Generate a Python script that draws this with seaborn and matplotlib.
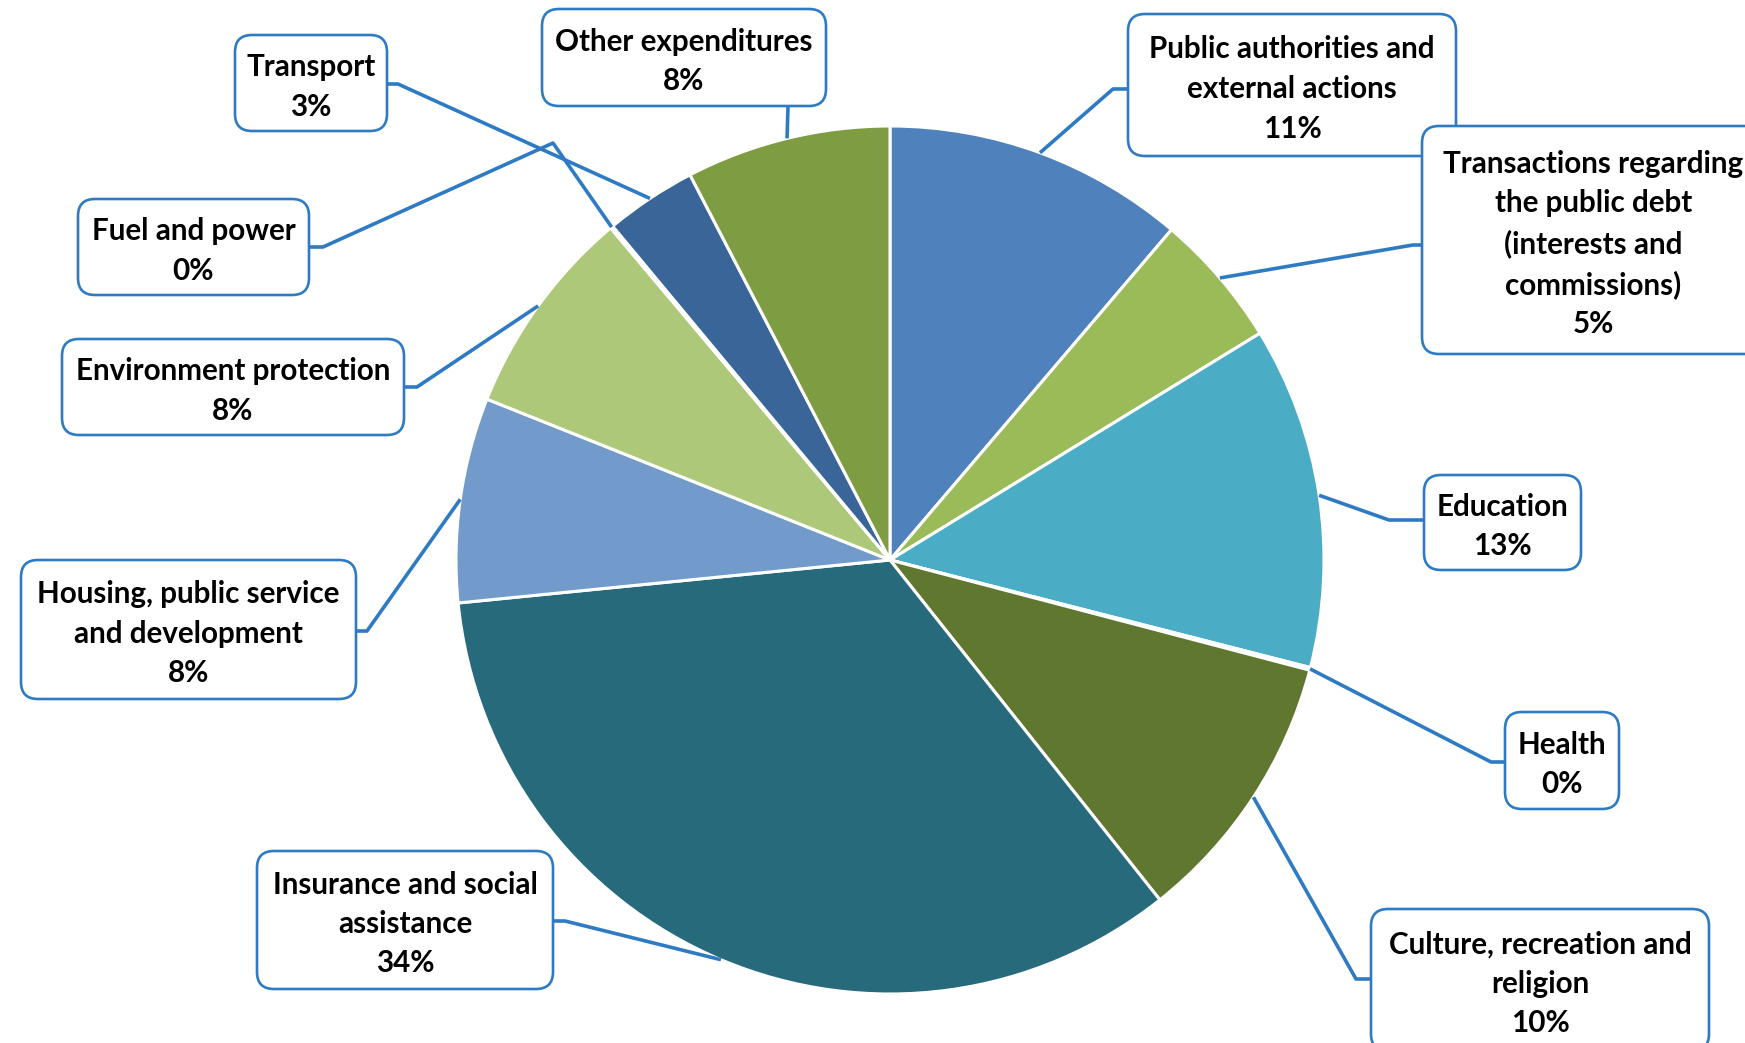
import numpy as np
import matplotlib
matplotlib.use("Agg")
import matplotlib.pyplot as plt
from matplotlib.patches import FancyBboxPatch
import seaborn as sns

sns.set_theme(style="white")
plt.rcParams["font.family"] = ["Lato", "DejaVu Sans"]

# Budget expenditure shares by function (clockwise from 12 o'clock)
categories = [
    "Public authorities and\nexternal actions",
    "Transactions regarding\nthe public debt\n(interests and\ncommissions)",
    "Education",
    "Health",
    "Culture, recreation and\nreligion",
    "Insurance and social\nassistance",
    "Housing, public service\nand development",
    "Environment protection",
    "Fuel and power",
    "Transport",
    "Other expenditures",
]
shares = [11.2, 5.0, 12.7, 0.1, 10.2, 34.0, 7.6, 7.8, 0.1, 3.4, 7.6]
colors = ["#4F81BD", "#9BBB59", "#4BACC6", "#2C4D75", "#60772F", "#276A7C",
          "#729ACA", "#ADC879", "#3B5E8C", "#3A6599", "#7E9C41"]

W, H = 1745, 1043
CX, CY, R = 890, H - 560, 434
LINE = "#2E7BC4"

# Label box extents (x0, x1, y0, y1 in pixels from top-left) and leader path
# points (pixels from top-left) running from the box towards the pie edge.
boxes = [
    (1128, 1456, 14, 156),
    (1422, 1765, 126, 354),
    (1424, 1581, 475, 570),
    (1505, 1619, 712, 809),
    (1371, 1709, 909, 1051),
    (257, 553, 851, 989),
    (21, 356, 560, 699),
    (62, 404, 339, 435),
    (78, 309, 199, 295),
    (235, 387, 35, 131),
    (542, 826, 9, 106),
]
paths = [
    [(1128, 89), (1113, 89)],
    [(1422, 245), (1413, 245)],
    [(1424, 520), (1389, 520)],
    [(1505, 762), (1491, 762)],
    [(1371, 979), (1356, 979)],
    [(553, 921), (565, 921)],
    [(356, 631), (367, 631)],
    [(404, 387), (417, 387)],
    [(309, 247), (323, 247), (553, 143)],
    [(387, 84), (398, 84)],
    [(788, 106)],
]

fig = plt.figure(figsize=(W / 100, H / 100), dpi=100)
ax = fig.add_axes([0, 0, 1, 1])

wedges, _ = ax.pie(
    shares, colors=colors, startangle=90, counterclock=False,
    center=(CX, CY), radius=R, frame=True,
    wedgeprops=dict(edgecolor="white", linewidth=2.2),
)
ax.set_xlim(0, W)
ax.set_ylim(0, H)
ax.set_aspect("equal")
ax.axis("off")

total = sum(shares)
for wdg, name, val, (x0, x1, y0, y1), path in zip(wedges, categories, shares, boxes, paths):
    # leader line from the box to the wedge's outer edge at its mid-angle
    mid = np.deg2rad((wdg.theta1 + wdg.theta2) / 2)
    ex, ey = CX + R * np.cos(mid), CY + R * np.sin(mid)
    xs = [p[0] for p in path] + [ex]
    ys = [H - p[1] for p in path] + [ey]
    ax.plot(xs, ys, color=LINE, lw=2.6, solid_capstyle="butt", zorder=3)

    pad = 17
    box = FancyBboxPatch(
        (x0 + pad, H - y1 + pad), (x1 - x0) - 2 * pad, (y1 - y0) - 2 * pad,
        boxstyle=f"round,pad={pad}", facecolor="white", edgecolor=LINE,
        linewidth=1.9, zorder=4,
    )
    ax.add_patch(box)
    ax.text((x0 + x1) / 2, H - (y0 + y1) / 2 - 4, f"{name}\n{val / total * 100:.0f}%",
            ha="center", va="center", multialignment="center",
            fontsize=21.3, fontweight="bold", color="black",
            linespacing=1.5, zorder=5)

fig.savefig("out.png", dpi=100, facecolor="white")
